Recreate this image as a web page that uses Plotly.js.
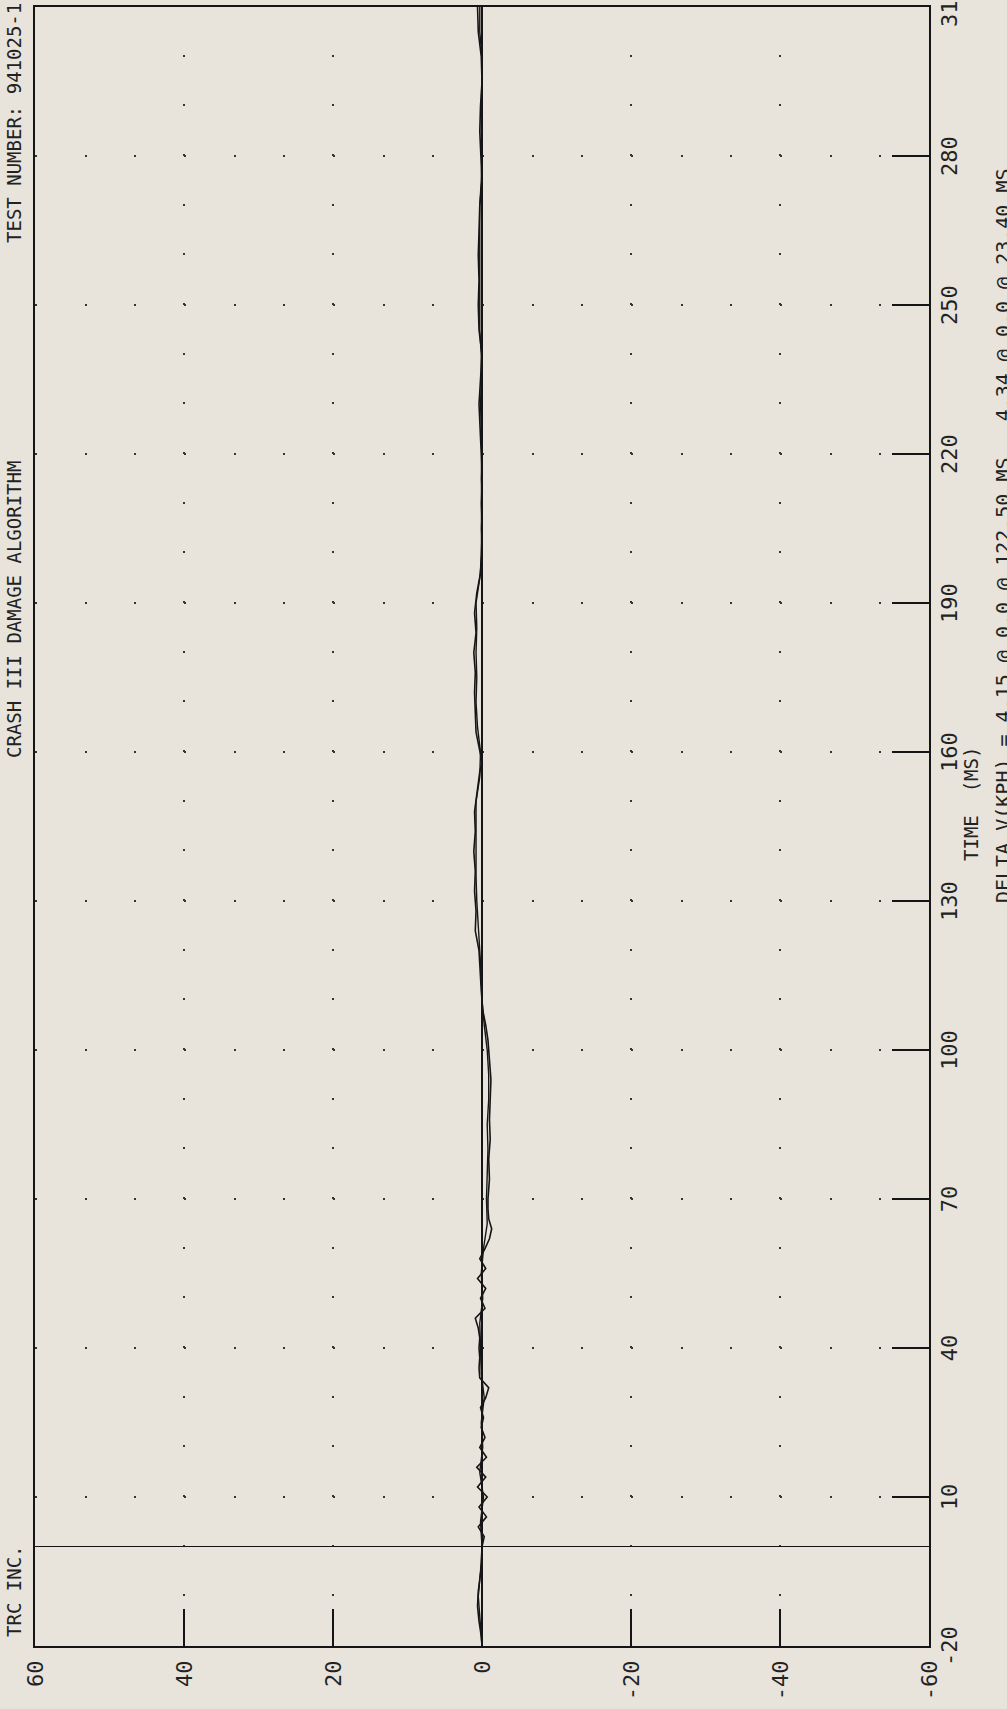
<!DOCTYPE html>
<html><head><meta charset="utf-8">
<script src="https://cdn.plot.ly/plotly-3.0.1.min.js"></script>
<style>
html,body{margin:0;padding:0;width:1007px;height:1709px;overflow:hidden;background:#e8e4db;}
#wrap{position:absolute;left:0;top:0;width:1709px;height:1007px;transform-origin:0 0;transform:translate(0px,1709px) rotate(-90deg);}
#chart{width:1709px;height:1007px;}
</style></head><body><div id="wrap"><div id="chart"></div></div>
<script>
// ---- data ----
const timeTicks = [-20,10,40,70,100,130,160,190,220,250,280,310];
const valueTicks = [60,40,20,0,-20,-40,-60];

const timeA = [-20,-18,-15,-12,-9,-6,-3,0,
  2,4,6,8,10,12,14,16,18,20,22,24,26,28,30,32,34,36,38,40,42,44,46,48,50,52,54,56,58,60,
  62,64,66,68,70,74,78,82,86,90,94,98,102,105,108,
  112,116,120,124,128,132,136,140,144,148,152,156,158,
  160,164,168,172,176,180,184,188,192,196,
  200,205,210,215,220,225,230,235,240,245,250,255,260,265,270,275,280,285,290,295,300,305,310];
const accelA = [0.0,0.1,0.4,0.6,0.5,0.2,0.0,0.0,
  -0.3,0.5,-0.6,0.4,-0.7,0.6,-0.5,0.7,-0.6,0.3,-0.4,0.1,-0.2,0.2,-0.5,-0.9,0.3,0.4,0.3,0.4,0.3,0.5,0.9,-0.4,0.2,-0.5,0.6,-0.5,0.3,-0.4,
  -1.0,-1.3,-0.9,-0.8,-0.8,-1.0,-0.9,-1.1,-1.0,-1.1,-1.2,-1.0,-0.8,-0.5,-0.1,
  0.1,0.2,0.4,0.9,0.8,1.0,0.9,1.1,0.9,1.0,0.7,0.3,0.0,
  0.3,0.8,0.9,1.0,0.9,1.1,0.8,1.0,0.7,0.2,
  0.1,0.0,0.1,0.0,0.1,0.3,0.4,0.2,0.0,0.4,0.5,0.4,0.5,0.4,0.3,0.0,0.1,0.3,0.2,0.0,0.1,0.5,0.6];

const timeB = [-20,-15,-10,-5,0,5,10,15,20,25,30,35,40,45,50,55,60,65,70,75,80,85,90,95,100,
  105,110,115,120,125,130,135,140,145,150,155,160,165,170,175,180,185,190,195,200,
  205,210,215,220,225,230,235,240,245,250,255,260,265,270,275,280,285,290,295,300,305,310];
const accelB = [0.0,0.3,0.5,0.2,0.0,0.2,-0.2,0.3,-0.1,0.1,-0.3,0.1,0.2,0.3,-0.1,0.1,-0.2,-0.7,-0.6,-0.7,-0.8,-0.7,-0.9,-0.9,-0.7,
  -0.3,0.0,0.1,0.3,0.6,0.7,0.8,0.8,0.7,0.8,0.3,0.2,0.6,0.8,0.7,0.8,0.7,0.8,0.3,0.0,
  0.1,0.0,0.1,0.0,0.1,0.2,0.1,0.1,0.3,0.3,0.3,0.4,0.3,0.3,0.1,0.0,0.1,0.1,0.1,0.0,0.3,0.3];

const titleLeft = 'TRC INC.';
const titleCenter = 'CRASH III DAMAGE ALGORITHM';
const titleRight = 'TEST NUMBER: 941025-1';
const timeTitle = 'TIME &nbsp;(MS)';
const footerText = 'DELTA V(KPH) = 4.15 @ 0.0 @ 122.50 MS &nbsp; 4.34 @ 0.0 @ 23.40 MS';

// ---- chart ----
const W = 1709, H = 1007;
const M = {l:63, r:7, t:35, b:78};
const pw = W - M.l - M.r, ph = H - M.t - M.b;
const px = X => (X - M.l) / pw;
const py = Y => (H - M.b - Y) / ph;

const ink = '#151515';
const mono = 'DejaVu Sans Mono, Liberation Mono, monospace';
const dotStep = pw / 33; // 10 ms spacing == 1/3 of a value tick

const axisCommon = {
  ticks:'inside', ticklen:37, tickwidth:1.6, tickcolor:ink,
  showline:true, mirror:true, linecolor:ink, linewidth:2,
  showgrid:true, gridcolor:'#333', gridwidth:2, griddash:'2px,' + (dotStep - 2).toFixed(3) + 'px',
  zeroline:true, zerolinecolor:ink, zerolinewidth:1.6,
  tickfont:{family:mono, size:22, color:'#222'},
  ticklabeloverflow:'allow', fixedrange:true, tickangle:0
};

const traces = [
  {x:timeA, y:accelA, type:'scatter', mode:'lines', line:{color:ink, width:1.6}, hoverinfo:'skip', name:'A'},
  {x:timeB, y:accelB, type:'scatter', mode:'lines', line:{color:ink, width:1.4}, hoverinfo:'skip', name:'B'}
];

const ann = (text, X, Y, xa, ya, size) => ({
  text:text, xref:'paper', yref:'paper', x:px(X), y:py(Y), xanchor:xa, yanchor:ya,
  showarrow:false, font:{family:mono, size:size, color:'#222'}
});

const layout = {
  width:W, height:H, margin:M, showlegend:false,
  paper_bgcolor:'#e8e4db', plot_bgcolor:'#e8e4db',
  xaxis:Object.assign({}, axisCommon, {range:[-20,310], tickvals:timeTicks, ticktext:timeTicks.map(String), ticklabelstandoff:0}),
  yaxis:Object.assign({}, axisCommon, {range:[-60,60], tickvals:valueTicks, ticktext:valueTicks.map(String), ticklabelstandoff:8}),
  annotations:[
    ann(titleLeft, 70, 14, 'left', 'middle', 19),
    ann(titleCenter, 1099, 14, 'center', 'middle', 19),
    ann(titleRight, 1708, 14, 'right', 'middle', 19),
    ann(timeTitle, 905, 971, 'center', 'middle', 19),
    ann(footerText, 804, 989, 'left', 'top', 20)
  ]
};

Plotly.newPlot('chart', traces, layout, {staticPlot:true, displayModeBar:false});
</script>
</body></html>
